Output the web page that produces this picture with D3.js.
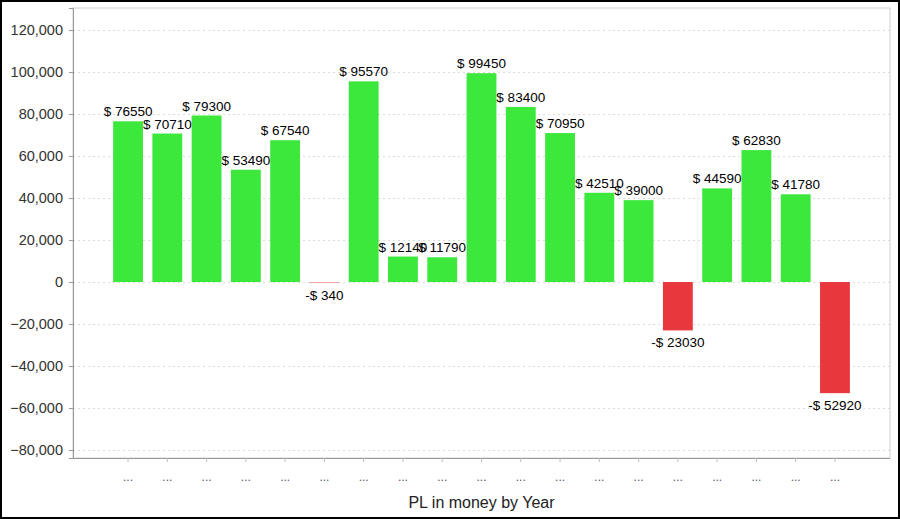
<!DOCTYPE html>
<html>
<head>
<meta charset="utf-8">
<script src="https://cdn.jsdelivr.net/npm/d3@7"></script>
<style>
  body { margin: 0; background: #fff; }
  text { font-family: "Liberation Sans", Arial, sans-serif; }
</style>
</head>
<body>
<div id="graph"></div>
<script>
// values
var categories = ["y1", "y2", "y3", "y4", "y5", "y6", "y7", "y8", "y9", "y10",
                  "y11", "y12", "y13", "y14", "y15", "y16", "y17", "y18", "y19"];
var tickLabels = ["...", "...", "...", "...", "...", "...", "...", "...", "...", "...",
                  "...", "...", "...", "...", "...", "...", "...", "...", "..."];
var values = [76550, 70710, 79300, 53490, 67540, -340, 95570, 12140, 11790, 99450,
              83400, 70950, 42510, 39000, -23030, 44590, 62830, 41780, -52920];
var yTicks = [-80000, -60000, -40000, -20000, 0, 20000, 40000, 60000, 80000, 100000, 120000];

var width = 900;
var height = 519;
var plot = { left: 73, top: 8, right: 890, bottom: 458 };

var svg = d3.select("#graph")
    .append("svg")
    .attr("width", width)
    .attr("height", height);

// outer frame
svg.append("rect")
    .attr("x", 1).attr("y", 1)
    .attr("width", width - 2).attr("height", height - 2)
    .attr("fill", "#fff")
    .attr("stroke", "#000")
    .attr("stroke-width", 2);

var y = d3.scaleLinear()
    .domain([-83800, 130500])
    .range([plot.bottom, plot.top]);

var x = d3.scaleBand()
    .domain(categories)
    .range([108.4, 854.6])
    .paddingInner(0.24)
    .paddingOuter(0.12);

// plot area border
svg.append("rect")
    .attr("x", plot.left).attr("y", plot.top)
    .attr("width", plot.right - plot.left).attr("height", plot.bottom - plot.top)
    .attr("fill", "none")
    .attr("stroke", "#d0d0d0");

// grid lines
svg.append("g")
    .selectAll("line")
    .data(yTicks)
    .enter()
    .append("line")
    .attr("x1", plot.left).attr("x2", plot.right)
    .attr("y1", function(d) { return Math.round(y(d)) + 0.5; })
    .attr("y2", function(d) { return Math.round(y(d)) + 0.5; })
    .attr("stroke", "#dcdcdc")
    .attr("stroke-dasharray", "2,3");

// y axis
var yAxis = svg.append("g")
    .attr("transform", "translate(" + plot.left + ",0)")
    .call(d3.axisLeft(y).tickValues(yTicks).tickSize(4).tickPadding(6).tickFormat(d3.format(",")));
yAxis.select(".domain").attr("stroke", "#999");
yAxis.selectAll(".tick line").attr("stroke", "#999");
yAxis.selectAll("text").attr("font-size", 14.5).attr("fill", "#333")
    .attr("font-family", "Liberation Sans, Arial, sans-serif");

// x axis
var xAxis = svg.append("g")
    .attr("transform", "translate(0," + plot.bottom + ")")
    .call(d3.axisBottom(x).tickSize(4).tickPadding(10)
        .tickFormat(function(d, i) { return tickLabels[i]; }));
xAxis.select(".domain").attr("d", "M" + plot.left + ",0.5H" + plot.right).attr("stroke", "#999");
xAxis.selectAll(".tick line").attr("stroke", "#bbb");
xAxis.selectAll("text").attr("font-size", 12).attr("fill", "#555")
    .attr("font-family", "Liberation Sans, Arial, sans-serif");

// bars
svg.append("g")
    .selectAll("rect")
    .data(values)
    .enter()
    .append("rect")
    .attr("x", function(d, i) { return x(categories[i]); })
    .attr("width", x.bandwidth())
    .attr("y", function(d) { return y(Math.max(0, d)); })
    .attr("height", function(d) { return Math.max(1, Math.abs(y(d) - y(0))); })
    .attr("fill", function(d) { return d < 0 ? (d > -1000 ? "#f4a3a6" : "#e8383d") : "#3de83d"; });

// value labels
svg.append("g")
    .selectAll("text")
    .data(values)
    .enter()
    .append("text")
    .attr("x", function(d, i) { return x(categories[i]) + x.bandwidth() / 2; })
    .attr("y", function(d) { return d < 0 ? y(d) + 17 : y(d) - 5; })
    .attr("text-anchor", "middle")
    .attr("font-size", 13.5)
    .attr("fill", "#000")
    .text(function(d) { return (d < 0 ? "-$ " : "$ ") + Math.abs(d); });

// x axis title
svg.append("text")
    .attr("x", (plot.left + plot.right) / 2)
    .attr("y", 508)
    .attr("text-anchor", "middle")
    .attr("font-size", 16)
    .attr("fill", "#222")
    .text("PL in money by Year");
</script>
</body>
</html>
